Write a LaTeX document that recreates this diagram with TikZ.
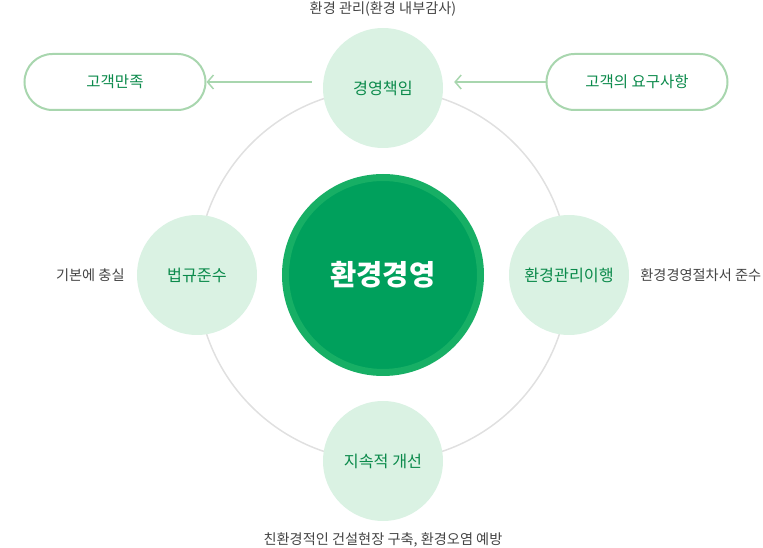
\documentclass[tikz,border=0pt]{standalone}
\usepackage{fontspec}
\setmainfont{Noto Sans CJK KR}
\usetikzlibrary{arrows.meta,positioning}
\definecolor{mainGreen}{HTML}{00A05C}
\definecolor{ringGreen}{HTML}{17AF65}
\definecolor{paleGreen}{HTML}{DAF2E3}
\definecolor{textGreen}{HTML}{0B8A4B}
\definecolor{pillLine}{HTML}{A8D6AE}
\definecolor{cycleGray}{HTML}{E0E0E0}
\definecolor{noteGray}{HTML}{444444}

\begin{document}
\begin{tikzpicture}[x=1pt, y=1pt, node distance=186pt,
    phase/.style={circle, fill=paleGreen, minimum size=120pt, inner sep=0pt, text=textGreen, font=\fontsize{16.2}{19}\selectfont},
    goal/.style={draw=pillLine, line width=2pt, rounded corners=28pt, minimum width=181pt, minimum height=56pt, fill=white, text=textGreen, font=\fontsize{15.5}{18}\selectfont},
    note/.style={text=noteGray, font=\fontsize{14.2}{17}\selectfont, inner sep=0pt},
    flow/.style={draw=pillLine, line width=1.5pt, -{Straight Barb[length=6pt,width=14pt]}}]
                        \useasboundingbox (-383,-273) rectangle (380,275);
                        \node (ems) [circle, fill=mainGreen, draw=ringGreen, line width=7pt, minimum size=195pt, text=white, font=\fontsize{28.5}{32}\selectfont\bfseries] at (0,0) {환경경영};
                        \draw[cycleGray, line width=1.5pt] (ems.center) circle (186);
                        \node (resp) [phase, above of=ems, yshift=1pt] {경영책임};
                        \node (law) [phase, left of=ems] {법규준수};
                        \node (proc) [phase, right of=ems] {환경관리이행};
                        \node (impr) [phase, below of=ems] {지속적 개선};
                        \node (sat) [goal, left of=resp, xshift=-82pt, yshift=6pt] {고객만족};
                        \node (req) [goal, right of=resp, xshift=68pt, yshift=6pt] {고객의 요구사항};
                        \node (respnote) [note, above=11pt of resp] {환경 관리(환경 내부감사)};
                        \node (lawnote) [note, left=12pt of law] {기본에 충실};
                        \node (procnote) [note, right=11pt of proc] {환경경영절차서 준수};
                        \node (imprnote) [note, below=11pt of impr] {친환경적인 건설현장 구축, 환경오염 예방};
                        \draw[flow, shorten >=11pt] (req.west) -- (resp.east |- req.west);
                        \draw[flow, shorten <=11pt] (resp.west |- sat.east) -- (sat.east);
                    \end{tikzpicture}
\end{document}
